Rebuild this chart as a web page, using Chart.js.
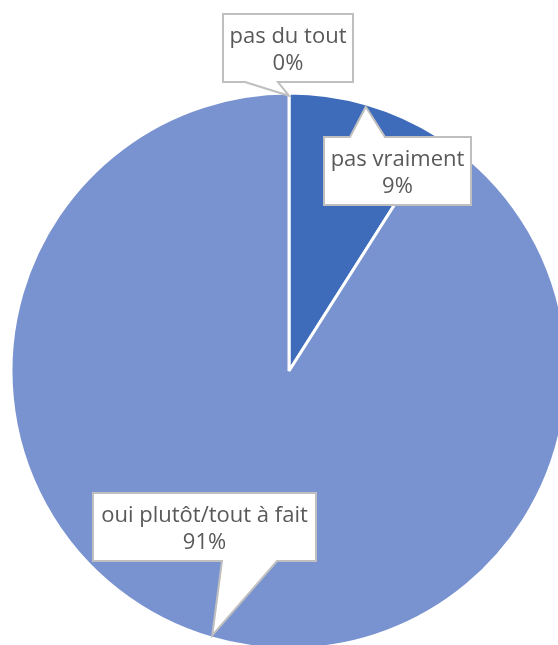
<!DOCTYPE html>
<html>
<head>
<meta charset="utf-8">
<script src="https://cdn.jsdelivr.net/npm/chart.js@4/dist/chart.umd.min.js"></script>
<style>
  html, body { margin: 0; padding: 0; background: #fff; overflow: hidden; }
  canvas { display: block; }
</style>
</head>
<body>
<canvas id="pie" width="578" height="742"></canvas>
<script>
// Données du graphique
const categories = ['pas du tout', 'pas vraiment', 'oui plutôt/tout à fait'];
const values = [0, 9, 91];
const sliceColors = ['#2F528F', '#3F6CBA', '#7992D0'];

// Position des bulles (décalage du centre de la bulle / centre du camembert)
const calloutBoxes = [
    { dx: -1,    dy: -323, w: 130, h: 68, side: 'bottom', base: [22, 55] },
    { dx: 108.5, dy: -200, w: 147, h: 68, side: 'top',    base: [26, 61] },
    { dx: -84.5, dy: 156,  w: 223, h: 68, side: 'bottom', base: [129, 184] }
];

// Plugin qui dessine les bulles type Excel
const calloutPlugin = {
    id: 'callouts',
    afterDatasetsDraw(chart) {
        const ctx = chart.ctx;
        const arcs = chart.getDatasetMeta(0).data;
        const total = values.reduce((a, b) => a + b, 0);
        arcs.forEach((arc, i) => {
            const p = arc.getProps(['x', 'y', 'startAngle', 'endAngle', 'outerRadius'], true);
            const mid = (p.startAngle + p.endAngle) / 2;
            const tipX = p.x + Math.cos(mid) * p.outerRadius * 0.99;
            const tipY = p.y + Math.sin(mid) * p.outerRadius * 0.99;
            const b = calloutBoxes[i];
            const cx = p.x + b.dx, cy = p.y + b.dy;
            const l = cx - b.w / 2, r = cx + b.w / 2, t = cy - b.h / 2, bt = cy + b.h / 2;

            ctx.save();
            ctx.beginPath();
            ctx.moveTo(l, t);
            if (b.side === 'top') {
                ctx.lineTo(l + b.base[0], t);
                ctx.lineTo(tipX, tipY);
                ctx.lineTo(l + b.base[1], t);
            }
            ctx.lineTo(r, t);
            ctx.lineTo(r, bt);
            if (b.side === 'bottom') {
                ctx.lineTo(l + b.base[1], bt);
                ctx.lineTo(tipX, tipY);
                ctx.lineTo(l + b.base[0], bt);
            }
            ctx.lineTo(l, bt);
            ctx.closePath();
            ctx.fillStyle = '#ffffff';
            ctx.fill();
            ctx.lineWidth = 2;
            ctx.strokeStyle = '#BFBFBF';
            ctx.lineJoin = 'miter';
            ctx.stroke();

            ctx.fillStyle = '#595959';
            ctx.font = '22px "Open Sans", sans-serif';
            ctx.textAlign = 'center';
            ctx.textBaseline = 'alphabetic';
            const pct = Math.round(values[i] / total * 100) + '%';
            ctx.fillText(categories[i], cx, cy - 5);
            ctx.fillText(pct, cx, cy + 22);
            ctx.restore();
        });
    }
};

const ctx = document.getElementById('pie').getContext('2d');
const pieChart = new Chart(ctx, {
    type: 'pie',
    data: {
        labels: categories,
        datasets: [{
            data: values,
            backgroundColor: sliceColors,
            borderColor: '#ffffff',
            borderWidth: 3
        }]
    },
    options: {
        responsive: false,
        animation: false,
        radius: 278,
        layout: { padding: 0 },
        plugins: {
            legend: { display: false },
            tooltip: { enabled: false }
        }
    },
    plugins: [calloutPlugin]
});
</script>
</body>
</html>
